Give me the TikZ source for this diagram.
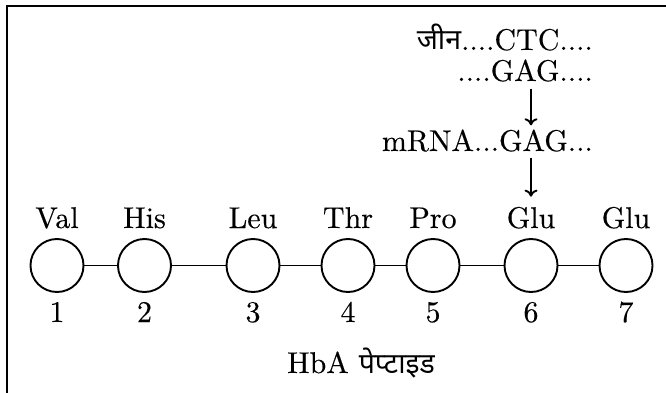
\documentclass[tikz,border=0pt]{standalone}
\usepackage{fontspec}
\usetikzlibrary{arrows.meta}
\setmainfont{lmroman10-regular.otf}[FakeBold=0.3]
\newfontfamily\hindi[Script=Devanagari,Scale=0.95]{Noto Sans}
\begin{document}
\begin{tikzpicture}
[x=1pt,y=-1pt,
 every node/.style={inner sep=0pt,font=\fontsize{30}{36}\selectfont},
 residue/.style={circle,draw=black,line width=1.9pt,minimum size=53pt},
 bond/.style={line width=1.9pt},
 flow/.style={-{To[length=7pt,width=13pt]},line width=1.9pt}]
\useasboundingbox (0,0) rectangle (666,393);
\draw [line width=2.6pt] (7,393) -- (7,6) -- (666,6);
% gene and mRNA
\node [anchor=base east] (dna1) at (593,50) {{\hindi जीन}....CTC....};
\node [anchor=base east] (dna2) at (593,81) {....GAG....};
\node [anchor=base east] (mrna) at (593,151) {mRNA...GAG...};
% chain
\node [residue] (r1) at (57,265.5) {};
\node [residue] (r2) at (144.5,265.5) {};
\node [residue] (r3) at (253,265.5) {};
\node [residue] (r4) at (348,265.5) {};
\node [residue] (r5) at (433,265.5) {};
\node [residue] (r6) at (531,265.5) {};
\node [residue] (r7) at (626,265.5) {};
\node [anchor=base] (aa1) at (r1 |- 0,228) {Val};
\node [anchor=base] (aa2) at (r2 |- 0,228) {His};
\node [anchor=base] (aa3) at (r3 |- 0,228) {Leu};
\node [anchor=base] (aa4) at (r4 |- 0,228) {Thr};
\node [anchor=base] (aa5) at (r5 |- 0,228) {Pro};
\node [anchor=base] (aa6) at (r6 |- 0,228) {Glu};
\node [anchor=base] (aa7) at (r7 |- 0,228) {Glu};
\node [anchor=base] (pos1) at (r1 |- 0,322) {1};
\node [anchor=base] (pos2) at (r2 |- 0,322) {2};
\node [anchor=base] (pos3) at (r3 |- 0,322) {3};
\node [anchor=base] (pos4) at (r4 |- 0,322) {4};
\node [anchor=base] (pos5) at (r5 |- 0,322) {5};
\node [anchor=base] (pos6) at (r6 |- 0,322) {6};
\node [anchor=base] (pos7) at (r7 |- 0,322) {7};
\node [anchor=base] (peptide) at (361,373) {HbA {\hindi पेप्टाइड}};
\draw [bond] (r1) -- (r2);
\draw [bond] (r2) -- (r3);
\draw [bond] (r3) -- (r4);
\draw [bond] (r4) -- (r5);
\draw [bond] (r5) -- (r6);
\draw [bond] (r6) -- (r7);
\draw [flow,shorten <=7pt,shorten >=4pt] (r6 |- dna2.south) -- (r6 |- mrna.north);
\draw [flow,shorten <=6pt,shorten >=10pt] (r6 |- mrna.south) -- (aa6.north);
\end{tikzpicture}
\end{document}
